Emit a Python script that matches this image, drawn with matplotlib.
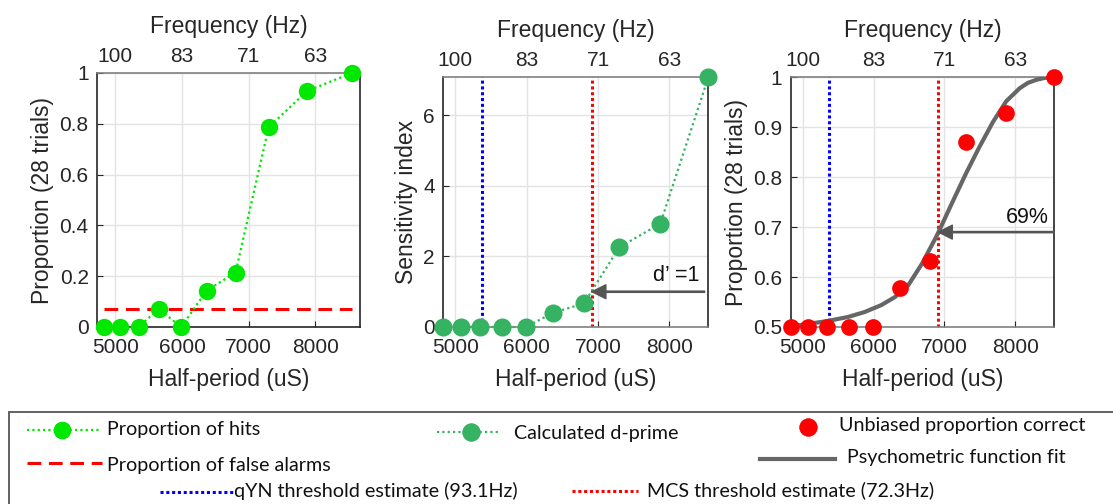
import numpy as np
import matplotlib.pyplot as plt
from matplotlib.lines import Line2D
from matplotlib.patches import Rectangle

plt.rcParams['font.family'] = ['Liberation Sans', 'DejaVu Sans']

# stimulus half-period (uS) for each of the 10 test frequencies
half_period = [4830, 5076, 5348, 5650, 5988, 6369, 6803, 7299, 7874, 8547]
hits = [0, 0, 0, 2 / 28, 0, 4 / 28, 6 / 28, 22 / 28, 26 / 28, 1.0]
false_alarm = 2 / 28
d_prime = [0, 0, 0, 0, 0, 0.40, 0.67, 2.26, 2.93, 7.08]
pc_unbiased = [0.5, 0.5, 0.5, 0.5, 0.5, 0.579, 0.632, 0.870, 0.929, 1.0]

# psychometric fit
fit_x = [4830, 5067, 5352, 5637, 5874, 6111, 6302, 6491, 6680, 6871, 6923,
         7113, 7303, 7492, 7683, 7872, 8062, 8180, 8300, 8420, 8547]
fit_y = [0.501, 0.506, 0.512, 0.520, 0.530, 0.544, 0.560, 0.584, 0.626,
         0.677, 0.692, 0.750, 0.807, 0.860, 0.910, 0.952, 0.978, 0.989,
         0.995, 0.999, 1.0]

qyn_hz = 93.1
mcs_hz = 72.3
dprime_crit = 1
pc_crit = 0.69

hp_ticks = [5000, 6000, 7000, 8000]
freq_labels = ['100', '83', '71', '63']

W, H = 1113, 504
GREEN = '#00E800'
DGREEN = '#35B262'
GRAY = '#666666'
DARK = '#262626'
LIGHT = '#808080'
LAB = 16.5
TCK = 15

qyn_hp = 1e6 / (2 * qyn_hz)
mcs_hp = 1e6 / (2 * mcs_hz)


def box(l, t, r, b):
    return [l / W, 1 - b / H, (r - l) / W, (b - t) / H]


def style(ax, xlim, bottom_color=DARK):
    ax.set_xlim(xlim)
    ax.set_xticks(hp_ticks)
    ax.grid(True, color='#e3e3e3', lw=1)
    ax.set_axisbelow(True)
    ax.tick_params(direction='in', length=4, labelsize=TCK, colors=DARK,
                   top=True)
    ax.tick_params(axis='x', pad=8)
    ax.tick_params(axis='y', pad=6)
    for s in ['left', 'right']:
        ax.spines[s].set_color(DARK)
    ax.spines['bottom'].set_color(bottom_color)
    ax.spines['top'].set_color(LIGHT)
    for s in ax.spines.values():
        s.set_linewidth(1.2)
    ax.set_xlabel('Half-period (uS)', fontsize=LAB, color=DARK, labelpad=8)
    top = ax.twiny()
    top.set_xlim(xlim)
    top.set_xticks(hp_ticks, freq_labels)
    top.tick_params(direction='in', length=0, labelsize=TCK, colors=DARK, pad=5)
    top.set_xlabel('Frequency (Hz)', fontsize=LAB, color=DARK, labelpad=10)
    for s in top.spines.values():
        s.set_visible(False)
    return top


def arrow(ax, x_tip, y, x_tail):
    ax.annotate('', xy=(x_tip, y), xytext=(x_tail, y),
                arrowprops=dict(facecolor='#555555', edgecolor='#555555',
                                width=0.9, headwidth=10, headlength=10,
                                shrink=0))


fig = plt.figure(figsize=(W / 100, H / 100), dpi=100)

# ---- panel 1: hits and false alarms
ax1 = fig.add_axes(box(97, 73, 360, 327))
ax1.plot(half_period, hits, ls=(0, (1, 1.4)), lw=1.6, color=GREEN,
         marker='o', ms=11.5, mfc=GREEN, mec=GREEN, zorder=3, clip_on=False)
ax1.hlines(false_alarm, half_period[0], half_period[-1], color='#FF0000',
           lw=2.2, linestyles=(0, (4.5, 2.5)), zorder=2)
ax1.set_ylim(0, 1)
ax1.set_yticks([0, 0.2, 0.4, 0.6, 0.8, 1], ['0', '0.2', '0.4', '0.6', '0.8', '1'])
style(ax1, (4725, 8670))
ax1.set_ylabel('Proportion (28 trials)', fontsize=LAB, color=DARK, labelpad=4)

# ---- panel 2: d-prime
ax2 = fig.add_axes(box(443.3, 77.3, 708.3, 327))
ax2.plot(half_period, d_prime, ls=(0, (1, 1.4)), lw=1.6, color=DGREEN,
         marker='o', ms=12, mfc=DGREEN, mec=DGREEN, zorder=3, clip_on=False)
ax2.axvline(qyn_hp, color='#0000FF', lw=2.2, ls=(0, (1, 0.9)), zorder=2)
ax2.axvline(mcs_hp, color='#FF0000', lw=2.2, ls=(0, (1, 0.9)), zorder=2)
ax2.set_ylim(0, max(d_prime))
ax2.set_yticks([0, 2, 4, 6])
style(ax2, (half_period[0], half_period[-1]), bottom_color=LIGHT)
ax2.set_ylabel('Sensitivity index', fontsize=LAB, color=DARK, labelpad=4)
arrow(ax2, mcs_hp, dprime_crit, 8495)
ax2.text(8420, 1.47, 'd\u2019 =1', fontsize=15.5, ha='right', va='center',
         color='#111111')

# ---- panel 3: unbiased proportion correct + fit
ax3 = fig.add_axes(box(790.7, 77.3, 1054, 327))
ax3.axvline(qyn_hp, color='#0000FF', lw=2.2, ls=(0, (1, 0.9)), zorder=2)
ax3.axvline(mcs_hp, color='#FF0000', lw=2.2, ls=(0, (1, 0.9)), zorder=2)
ax3.plot(fit_x, fit_y, color=GRAY, lw=3, zorder=3, solid_capstyle='round',
         solid_joinstyle='round')
ax3.plot(half_period, pc_unbiased, ls='none', marker='o', ms=11, mfc='#FF0000',
         mec='#FF0000', zorder=4, clip_on=False)
ax3.set_ylim(0.5, 1)
ax3.set_yticks([0.5, 0.6, 0.7, 0.8, 0.9, 1], ['0.5', '0.6', '0.7', '0.8', '0.9', '1'])
style(ax3, (half_period[0], half_period[-1]), bottom_color=LIGHT)
ax3.set_ylabel('Proportion (28 trials)', fontsize=LAB, color=DARK, labelpad=4)
arrow(ax3, mcs_hp, pc_crit, 8547)
ax3.text(8470, 0.72, '69%', fontsize=15.5, ha='right', va='center',
         color='#111111')

# ---- legend panel
fig.add_artist(Rectangle((9 / W, -0.05), 1.1, 1 - 412 / H + 0.05,
                         transform=fig.transFigure, fill=False,
                         edgecolor='#555555', lw=1.3))


def fx(x):
    return x / W


def fy(y):
    return 1 - y / H


def leg_line(x0, x1, y, **kw):
    fig.add_artist(Line2D([fx(x0), fx(x1)], [fy(y), fy(y)],
                          transform=fig.transFigure, **kw))


def leg_text(x, y, s):
    fig.text(fx(x), fy(y), s, fontsize=14.2, family=['Lato', 'DejaVu Sans'],
             ha='left', va='center', color='#111111')


leg_line(27, 100, 430, color=GREEN, lw=1.6, ls=(0, (1, 1.4)))
leg_line(62, 62, 430, color=GREEN, marker='o', ms=11.5, ls='none')
leg_text(107, 429, 'Proportion of hits')
leg_line(27, 102, 463, color='#FF0000', lw=2.2, ls=(0, (4.5, 2.5)))
leg_text(107, 466, 'Proportion of false alarms')
leg_line(160, 234, 492, color='#0000FF', lw=2.2, ls=(0, (1, 0.9)))
leg_text(234, 491, 'qYN threshold estimate (93.1Hz)')

leg_line(437, 498, 432, color=DGREEN, lw=1.6, ls=(0, (1, 1.4)))
leg_line(471, 471, 432, color=DGREEN, marker='o', ms=12, ls='none')
leg_text(514, 434, 'Calculated d-prime')

leg_line(808, 808, 427, color='#FF0000', marker='o', ms=12, ls='none')
leg_text(839, 426, 'Unbiased proportion correct')
leg_line(760, 835, 459, color=GRAY, lw=3)
leg_text(847, 458, 'Psychometric function fit')
leg_line(572, 638, 491, color='#FF0000', lw=2.2, ls=(0, (1, 0.9)))
leg_text(647, 490, 'MCS threshold estimate (72.3Hz)')

fig.savefig('out.png', dpi=100)
